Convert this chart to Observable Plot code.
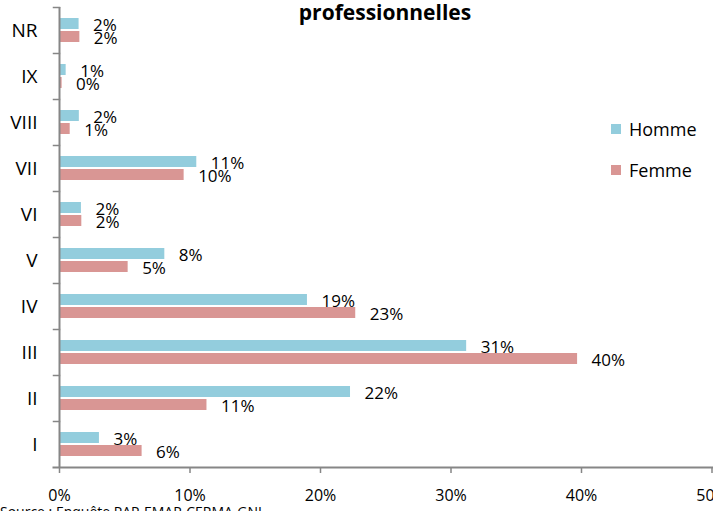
<!DOCTYPE html>
<html>
<head>
<meta charset="utf-8">
<script src="https://cdn.jsdelivr.net/npm/d3@7"></script>
<script src="https://cdn.jsdelivr.net/npm/@observablehq/plot@0.6"></script>
<style>
  html, body { margin: 0; padding: 0; background: #fff; overflow: hidden; }
  #wrap { position: relative; width: 713px; height: 511px; font-family: "Open Sans", sans-serif; }
  #title { position: absolute; left: 0; width: 770px; top: 2px; text-align: center; font-weight: bold; font-size: 21px; line-height: 21px; color: #000; }
  .leg { position: absolute; left: 611px; font-size: 18px; line-height: 18px; color: #000; }
  .leg span.sw { position: absolute; left: 0; width: 10px; height: 10px; }
  .leg span.lb { position: absolute; left: 18px; white-space: nowrap; }
  #caption { position: absolute; left: 0; top: 505px; font-size: 14px; line-height: 14px; white-space: nowrap; color: #000; }
</style>
</head>
<body>
<div id="wrap">
  <div id="chart"></div>
  <div id="title"></div>
  <div id="legend"></div>
  <div id="caption"></div>
</div>
<script>
const titleText = "professionnelles";
const captionText = "Source : Enquête PAP-EMAP-CERMA-GNL";
const categories = ["I", "II", "III", "IV", "V", "VI", "VII", "VIII", "IX", "NR"];
const seriesNames = ["Homme", "Femme"];
const seriesColors = ["#93CDDD", "#D99694"];
const homme = [3.06, 22.3, 31.2, 19.0, 8.07, 1.68, 10.52, 1.52, 0.51, 1.5];
const femme = [6.33, 11.3, 39.7, 22.7, 5.26, 1.71, 9.55, 0.82, 0.2, 1.56];
const xTicks = [0, 10, 20, 30, 40, 50];

const data = [];
categories.forEach((c, i) => {
  data.push({cat: c, sex: "Homme", value: homme[i]});
  data.push({cat: c, sex: "Femme", value: femme[i]});
});

const axisColor = "#868686";

const chart = Plot.plot({
  width: 713,
  height: 511,
  marginLeft: 59,
  marginRight: 1.5,
  marginTop: 5,
  marginBottom: 42,
  style: {fontFamily: "'Open Sans', sans-serif", background: "#fff", color: "#000"},
  x: {domain: [0, 50]},
  y: {domain: seriesNames, paddingInner: 0.13, paddingOuter: 0.82, axis: null},
  fy: {domain: categories.slice().reverse(), padding: 0},
  color: {domain: seriesNames, range: seriesColors},
  marks: [
    Plot.barX(data, {x: "value", y: "sex", fy: "cat", fill: "sex"}),
    Plot.text(data, {
      x: "value", y: "sex", fy: "cat",
      text: d => Math.round(d.value) + "%",
      textAnchor: "start", dx: 14, dy: 2, fontSize: 17, fill: "#000"
    }),
    Plot.ruleX([0], {stroke: axisColor, strokeWidth: 2}),
    Plot.frame({anchor: "top", insetLeft: -6, insetRight: 652.5, stroke: axisColor, strokeWidth: 1.5}),
    Plot.frame({anchor: "bottom", facetAnchor: "bottom", insetLeft: -6, stroke: axisColor, strokeWidth: 2}),
    Plot.axisFy({anchor: "left", tickSize: 0, tickPadding: 22, fontSize: 19, label: null}),
    Plot.axisX({anchor: "bottom", ticks: xTicks, tickFormat: d => d + "%", tickSize: 6, tickPadding: 16, fontSize: 16, label: null, stroke: axisColor, strokeWidth: 1.5})
  ]
});
document.getElementById("chart").appendChild(chart);

document.getElementById("title").textContent = titleText;
document.getElementById("caption").textContent = captionText;

const legend = document.getElementById("legend");
const legTops = [120, 160.5];
seriesNames.forEach((name, i) => {
  const row = document.createElement("div");
  row.className = "leg";
  row.style.top = legTops[i] + "px";
  const sw = document.createElement("span");
  sw.className = "sw";
  sw.style.background = seriesColors[i];
  sw.style.top = "4px";
  const lb = document.createElement("span");
  lb.className = "lb";
  lb.textContent = name;
  row.appendChild(sw);
  row.appendChild(lb);
  legend.appendChild(row);
});
</script>
</body>
</html>
